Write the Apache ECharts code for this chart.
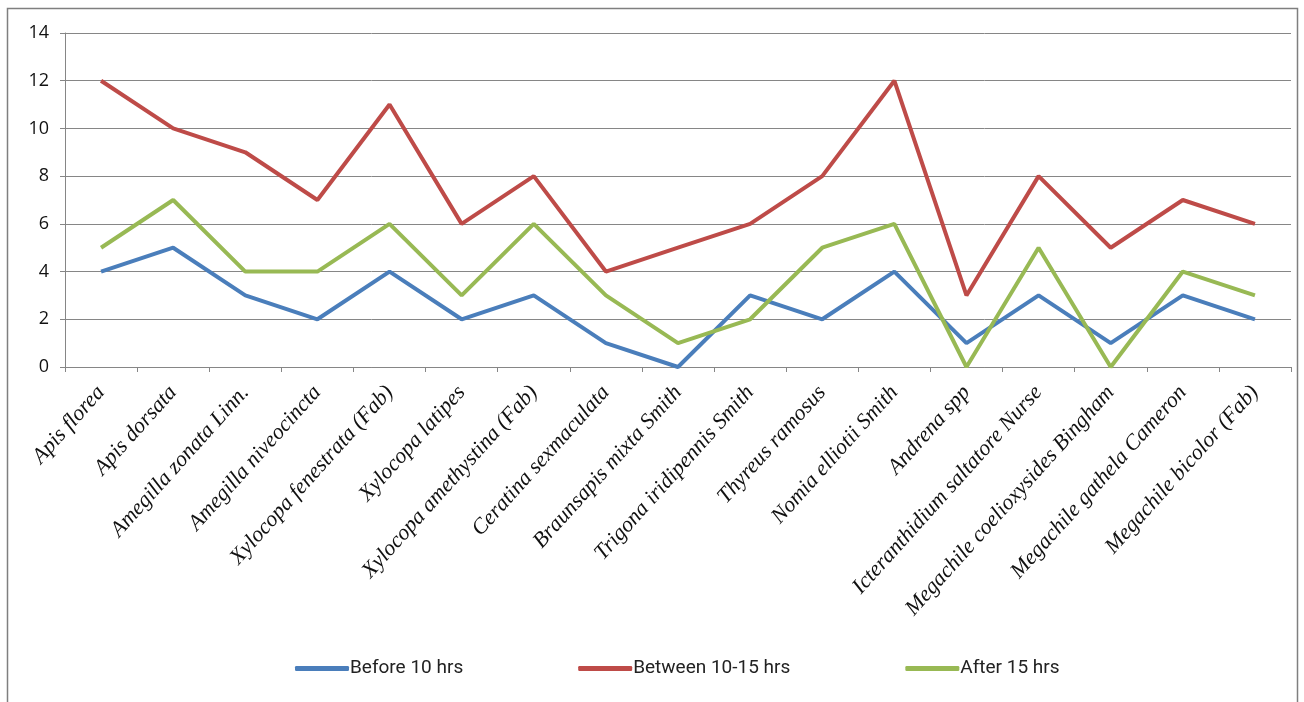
<!DOCTYPE html>
<html>
<head>
<meta charset="utf-8">
<script src="https://cdn.jsdelivr.net/npm/echarts@6/dist/echarts.min.js"></script>
<style>
  html, body { margin: 0; padding: 0; background: #fff; }
  #chart { width: 1304px; height: 702px; }
</style>
</head>
<body>
<div id="chart"></div>
<script>
var species = ['Apis florea', 'Apis dorsata', 'Amegilla zonata Linn.', 'Amegilla niveocincta',
  'Xylocopa fenestrata (Fab)', 'Xylocopa latipes', 'Xylocopa amethystina (Fab)', 'Ceratina sexmaculata',
  'Braunsapis mixta Smith', 'Trigona iridipennis Smith', 'Thyreus ramosus', 'Nomia elliotii Smith',
  'Andrena spp', 'Icteranthidium saltatore Nurse', 'Megachile coelioxysides Bingham',
  'Megachile gathela Cameron', 'Megachile bicolor (Fab)'];

var before10 = [4, 5, 3, 2, 4, 2, 3, 1, 0, 3, 2, 4, 1, 3, 1, 3, 2];
var between10to15 = [12, 10, 9, 7, 11, 6, 8, 4, 5, 6, 8, 12, 3, 8, 5, 7, 6];
var after15 = [5, 7, 4, 4, 6, 3, 6, 3, 1, 2, 5, 6, 0, 5, 0, 4, 3];

var myChart = echarts.init(document.getElementById('chart'));

function lineSeries(name, data, color) {
  return {
    name: name,
    type: 'line',
    data: data,
    symbol: 'none',
    lineStyle: { width: 4, color: color },
    itemStyle: { color: color }
  };
}

var option = {
  animation: false,
  backgroundColor: '#fff',
  graphic: [{
    type: 'rect',
    shape: { x: 7.5, y: 8.5, width: 1290, height: 710 },
    style: { fill: 'none', stroke: '#7f7f7f', lineWidth: 1.5 },
    silent: true
  }],
  grid: { left: 65, right: 13, top: 33, height: 334 },
  legend: {
    top: 654,
    left: 290,
    itemWidth: 54,
    itemHeight: 5,
    itemGap: 115,
    icon: 'roundRect',
    textStyle: { fontFamily: 'Roboto', fontSize: 19, color: '#222', padding: [0, 0, 0, -4] },
    data: ['Before 10 hrs', 'Between 10-15 hrs', 'After 15 hrs']
  },
  xAxis: {
    type: 'category',
    data: species,
    boundaryGap: true,
    axisLine: { lineStyle: { color: '#868686', width: 1 } },
    axisTick: { show: true, length: 5, lineStyle: { color: '#868686' } },
    axisLabel: {
      interval: 0,
      rotate: 48,
      margin: 22,
      fontFamily: 'Liberation Serif',
      fontStyle: 'italic',
      fontSize: 22,
      color: '#111'
    }
  },
  yAxis: {
    type: 'value',
    min: 0,
    max: 14,
    interval: 2,
    axisLine: { show: true, lineStyle: { color: '#868686', width: 1 } },
    axisTick: { show: true, length: 5, lineStyle: { color: '#868686' } },
    splitLine: { lineStyle: { color: '#868686', width: 1 } },
    axisLabel: {
      margin: 16,
      fontFamily: 'Open Sans',
      fontSize: 18,
      color: '#111'
    }
  },
  series: [
    lineSeries('Before 10 hrs', before10, '#4A7EBB'),
    lineSeries('Between 10-15 hrs', between10to15, '#BE4B48'),
    lineSeries('After 15 hrs', after15, '#98B954')
  ]
};

myChart.setOption(option);
</script>
</body>
</html>
